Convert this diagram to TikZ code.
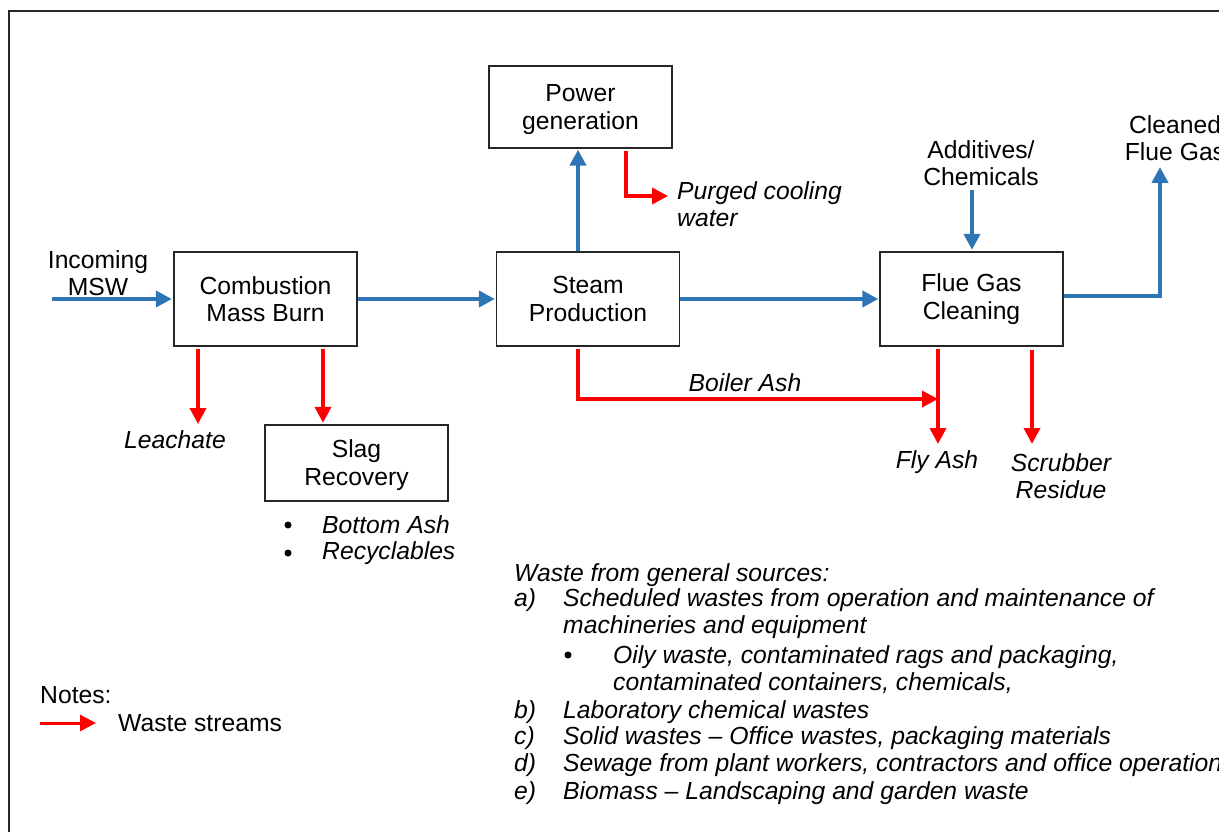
\documentclass[tikz,border=0pt]{standalone}
\usepackage{fontspec}
\setmainfont{Liberation Sans}
\usetikzlibrary{arrows.meta}
\definecolor{flowblue}{HTML}{2E75B6}
\definecolor{wastered}{HTML}{FF0000}
\tikzset{
  box/.style={draw=black!85, line width=1.3pt, fill=white, align=center,
    minimum width=183pt, minimum height=94pt, inner sep=0pt,
    font=\fontsize{24.7}{27.5}\selectfont},
  lbl/.style={align=center, inner sep=0pt, font=\fontsize{24.7}{27.5}\selectfont},
  ilbl/.style={align=center, inner sep=0pt, font=\fontsize{24.7}{27.5}\selectfont\itshape},
  blk/.style={anchor=base west, inner sep=0pt, font=\fontsize{24.7}{27.5}\selectfont\itshape},
  dot/.style={circle, fill=black, inner sep=0pt, minimum size=7pt},
  flow/.style={draw=flowblue, line width=4pt, -{Triangle[length=16pt,width=16pt]}},
  waste/.style={draw=wastered, line width=3.6pt, -{Triangle[length=16pt,width=16pt]}},
}
\begin{document}
\begin{tikzpicture}[x=1pt,y=-1pt]
\useasboundingbox (0,0) rectangle (1219,832);
% frame
\draw[line width=2pt, black!85] (1219,11) -- (9,11) -- (9,832);

% boxes
\node[box] (cmb) at (265.5,299) {Combustion\\Mass Burn};
\node[box] (stm) at (588,299) {Steam\\Production};
\node[box] (fgc) at (971.5,299) {Flue Gas\\Cleaning};
\node[box, minimum height=82pt] (pwr) at (580.5,107) {\rule{0pt}{22pt}Power\\generation};
\node[box, minimum height=76pt] (slag) at (356.5,463) {\rule{0pt}{22pt}Slag\\Recovery};

% labels
\node[lbl] (msw) at (98,273) {Incoming\\MSW};
\node[ilbl, anchor=west, align=left] (purged) at (677,204) {Purged cooling\\water};
\node[lbl] (adds) at (981,163) {Additives/\\Chemicals};
\node[lbl] (clean) at (1175,138) {Cleaned\\Flue Gas};
\node[ilbl] (leachl) at (175,440) {Leachate};
\node[ilbl] (boilerl) at (745,383) {Boiler Ash};
\node[ilbl] (flyl) at (937,462) {Fly Ash};
\node[ilbl] (scrl) at (1061,476) {Scrubber\\Residue};
\node[dot] (b1) at (288,525) {};
\node[dot] (b2) at (288,553) {};
\node[ilbl, anchor=west] (botash) at (322,525) {Bottom Ash};
\node[ilbl, anchor=west] (recyc) at (322,553) {Recyclables};

% coordinates for free ends
\coordinate (inl) at (52,299);
\coordinate (pend) at (668,196);
\coordinate (addtop) at (972,190);
\coordinate (cleanend) at (1160,167);
\coordinate (leach) at (198,424);
\coordinate (bjoin) at (938,399);
\coordinate (flyend) at (938,444);
\coordinate (scrend) at (1032,444);

% blue flows
\draw[flow] (inl) -- ([xshift=-1.5pt]cmb.west);
\draw[flow] (cmb.east) -- ([xshift=-1pt]stm.west);
\draw[flow] (stm.east) -- ([xshift=-1pt]fgc.west);
\draw[flow] ([xshift=-10pt]stm.north) -- ([xshift=-10pt,yshift=-1pt]stm.north |- pwr.south);
\draw[flow] (addtop) -- ([yshift=1.5pt]addtop |- fgc.north);
\draw[flow] ([yshift=3pt]fgc.east) -| (cleanend);

% waste flows
\draw[waste] ([xshift=45.5pt,yshift=-2pt]pwr.south) |- (pend);
\draw[waste] ([yshift=-2pt]leach |- cmb.south) -- (leach);
\draw[waste] ([xshift=57.5pt,yshift=-2pt]cmb.south) -- ([xshift=57.5pt,yshift=1.5pt]cmb.south |- slag.north);
\draw[waste] ([xshift=-10pt,yshift=-2pt]stm.south) |- (bjoin);
\draw[waste] ([yshift=-2pt]bjoin |- fgc.south) -- (flyend);
\draw[waste] ([yshift=-3pt]scrend |- fgc.south) -- (scrend);

% notes
\node[lbl, anchor=base west] (notes) at (40,703) {Notes:};
\coordinate (nA) at (40,723);
\coordinate (nB) at (96,723);
\draw[waste, line width=3pt] (nA) -- (nB);
\node[lbl, anchor=base west] (wstr) at (118,731) {Waste streams};

% general waste block
\node[blk] (g0) at (514,581) {Waste from general sources:};
\node[blk] (ga) at (514,606) {a)};
\node[blk] (gat) at (563,606) {Scheduled wastes from operation and maintenance of};
\node[blk] (gat2) at (563,633) {machineries and equipment};
\node[dot] (gbul) at (568,655) {};
\node[blk] (gbt) at (613,663) {Oily waste, contaminated rags and packaging,};
\node[blk] (gbt2) at (613,690) {contaminated containers, chemicals,};
\node[blk] (gb) at (514,718) {b)};
\node[blk] (gbt3) at (563,718) {Laboratory chemical wastes};
\node[blk] (gc) at (514,744) {c)};
\node[blk] (gct) at (563,744) {Solid wastes -- Office wastes, packaging materials};
\node[blk] (gd) at (514,771) {d)};
\node[blk] (gdt) at (563,771) {Sewage from plant workers, contractors and office operations};
\node[blk] (ge) at (514,799) {e)};
\node[blk] (get) at (563,799) {Biomass -- Landscaping and garden waste};
\end{tikzpicture}
\end{document}
